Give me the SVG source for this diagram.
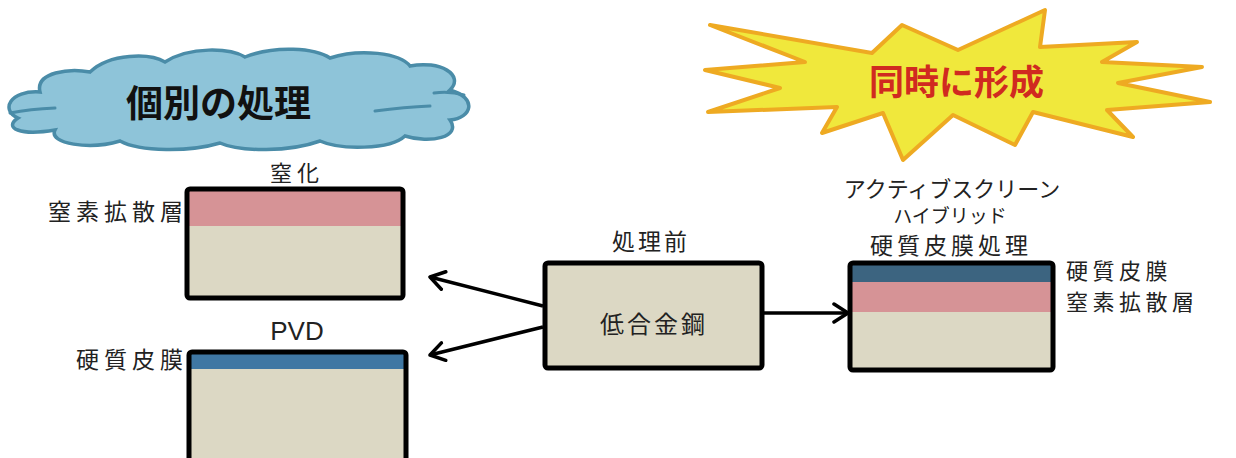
<svg xmlns="http://www.w3.org/2000/svg" width="1236" height="458" viewBox="0 0 1236 458">
<style>
.t{font-family:"Noto Sans CJK JP","Liberation Sans",sans-serif;fill:#222;}
.box{fill:none;stroke:#000;stroke-width:5;stroke-linejoin:round;}
.base{fill:#dcd8c4;}
.pink{fill:#d69396;}
.conn{stroke:#000;stroke-width:3.5;fill:none;marker-end:url(#ah);}
.cl{fill:none;stroke:#4a8ca8;stroke-width:3;stroke-linecap:round;}
</style>
<defs>
<marker id="ah" markerUnits="userSpaceOnUse" markerWidth="20" markerHeight="22" refX="16" refY="11" orient="auto">
<path d="M2,2 L16,11 L2,20" fill="none" stroke="#000" stroke-width="3.5" stroke-linecap="round" stroke-linejoin="round"/>
</marker>
</defs>
<rect width="1236" height="458" fill="#fff"/>

<g id="cloud">
<path d="M18,118 C0,110 10,90 40,92 C35,72 70,68 90,72 C110,53 150,53 165,62 C190,46 230,48 245,57 C275,45 315,48 330,58 C360,48 400,53 410,66 C440,60 465,75 450,90 C478,98 472,118 450,120 C462,137 430,144 405,136 C390,150 340,150 320,141 C290,152 240,152 220,143 C190,152 140,152 120,141 C90,150 48,144 55,130 C20,136 3,128 18,118 Z" fill="#8ec4d9" stroke="#4a8ca8" stroke-width="3.5"/>
<path class="cl" d="M10,113 Q30,109 55,108"/>
<path class="cl" d="M375,111 Q405,107 430,106"/>
<path class="cl" d="M434,93 Q450,91 464,95"/>
<text x="126" y="117" font-family="'Noto Sans CJK JP','Liberation Sans',sans-serif" font-size="37" font-weight="bold" fill="#111">個別の処理</text>
</g>

<g id="burst">
<path d="M710,25 L872,53 L902,25 L958,50 L1045,10 L1040,47 L1137,42 L1102,62 L1202,67 L1118,83 L1210,102 L1107,110 L1133,137 L1033,112 L1015,145 L953,115 L903,160 L883,113 L822,133 L837,107 L708,112 L780,88 L705,70 L805,62 Z" fill="#f0e83c" stroke="#eeaa22" stroke-width="4" stroke-linejoin="round"/>
<text x="869" y="95" font-family="'Noto Sans CJK JP','Liberation Sans',sans-serif" font-size="35" font-weight="bold" fill="#d02a20">同時に形成</text>
</g>

<g id="nitride">
<text class="t" x="270" y="181" font-size="22" letter-spacing="5">窒化</text>
<rect class="base" x="187" y="189" width="216" height="109"/>
<rect class="pink" x="187" y="189" width="216" height="37"/>
<rect class="box" x="187" y="189" width="216" height="109" rx="3"/>
<text class="t" x="48" y="220" font-size="23" letter-spacing="5">窒素拡散層</text>
</g>

<g id="pvd">
<text x="297" y="340" text-anchor="middle" font-family="'Liberation Sans',Arial,sans-serif" font-size="26" fill="#222">PVD</text>
<rect class="base" x="189" y="352" width="217" height="120"/>
<rect x="189" y="352" width="217" height="17" fill="#3f77a3"/>
<rect class="box" x="189" y="352" width="217" height="120" rx="3"/>
<text class="t" x="76" y="368" font-size="23" letter-spacing="5">硬質皮膜</text>
</g>

<g id="before">
<text class="t" x="612" y="250" font-size="23" letter-spacing="3">処理前</text>
<rect class="base" x="545" y="263" width="217" height="105"/>
<rect class="box" x="545" y="263" width="217" height="105" rx="3"/>
<text class="t" x="600" y="333" font-size="24" letter-spacing="3">低合金鋼</text>
</g>

<g id="hybrid">
<text class="t" x="952" y="197" text-anchor="middle" font-size="22">アクティブスクリーン</text>
<text class="t" x="950" y="223" text-anchor="middle" font-size="19">ハイブリッド</text>
<text class="t" x="870" y="254" font-size="23" letter-spacing="4">硬質皮膜処理</text>
<rect class="base" x="850" y="263" width="203" height="107"/>
<rect class="pink" x="850" y="281" width="203" height="31"/>
<rect x="850" y="263" width="203" height="19" fill="#3c6480"/>
<rect class="box" x="850" y="263" width="203" height="107" rx="3"/>
<text class="t" x="1066" y="279" font-size="22" letter-spacing="4.5">硬質皮膜</text>
<text class="t" x="1066" y="310" font-size="22" letter-spacing="4.5">窒素拡散層</text>
</g>

<g id="connectors">
<line class="conn" x1="543" y1="306" x2="430" y2="277"/>
<line class="conn" x1="543" y1="327" x2="430" y2="355"/>
<line class="conn" x1="764" y1="313" x2="848" y2="313"/>
</g>
</svg>
